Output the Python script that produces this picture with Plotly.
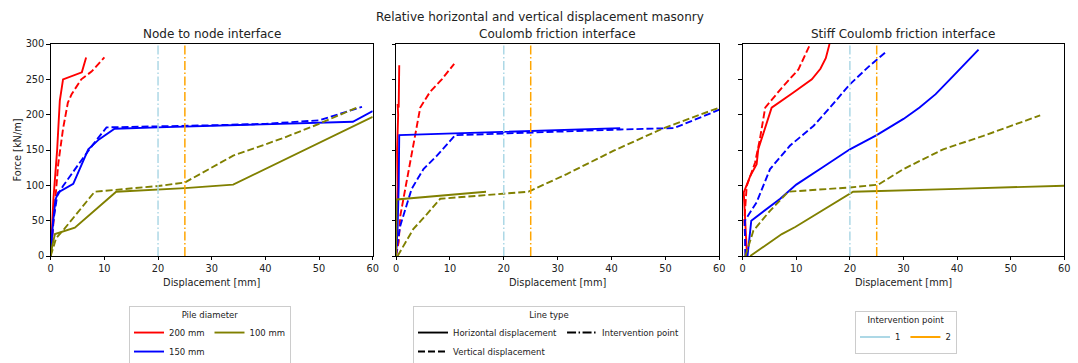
import plotly.graph_objects as go

# ---------------- data ----------------
panel_titles = ["Node to node interface", "Coulomb friction interface", "Stiff Coulomb friction interface"]
suptitle = "Relative horizontal and vertical displacement masonry"
diameters = ["200 mm", "150 mm", "100 mm"]
diam_colors = ["#ff0000", "#0000ff", "#808000"]
x_ticks = [0, 10, 20, 30, 40, 50, 60]
y_ticks = [0, 50, 100, 150, 200, 250, 300]
intervention_x = [20, 25]
intervention_names = ["1", "2"]

# Panel 1: node to node interface
p1_200_h_x = [0, 0.5, 1.0, 1.2, 1.7, 2.3, 5.8, 6.6]
p1_200_h_y = [0, 80, 130, 150, 220, 250, 260, 281]
p1_200_v_x = [0, 0.6, 1.4, 2.3, 3.2, 3.9, 5.7, 7.6, 10.0]
p1_200_v_y = [0, 60, 130, 180, 217, 229, 250, 261, 281]
p1_150_h_x = [0, 0.4, 0.9, 1.4, 4.2, 7.0, 9.0, 11.9, 20, 30, 40, 56.3, 60]
p1_150_h_y = [0, 45, 80, 90, 102, 151, 165, 180, 182, 184, 186, 190, 205]
p1_150_v_x = [0, 0.5, 1.2, 2.3, 5.4, 7.9, 10.4, 20, 30, 40, 50, 58]
p1_150_v_y = [0, 50, 85, 99, 132, 158, 182, 183, 185, 187, 192, 211]
p1_100_h_x = [0, 0.3, 0.8, 4.5, 12.2, 20, 25, 34, 60]
p1_100_h_y = [0, 15, 31, 40, 91, 94, 96, 101, 197]
p1_100_v_x = [0, 1.0, 2.5, 6.0, 8.2, 20, 25, 34, 43, 50, 57]
p1_100_v_y = [0, 25, 38, 71, 91, 99, 104, 142, 166, 187, 210]

# Panel 2: Coulomb friction interface
p2_200_h_x = [0, 0.3, 0.2, 0.4, 0.3, 0.5, 0.6]
p2_200_h_y = [0, 100, 150, 200, 215, 210, 270]
p2_200_v_x = [0, 0.5, 0.8, 2.6, 3.6, 4.5, 6.3, 8.5, 10.8]
p2_200_v_y = [0, 20, 57, 132, 175, 210, 232, 250, 272]
p2_150_h_x = [0, 0.3, 0.5, 0.6, 41.6]
p2_150_h_y = [0, 40, 100, 171, 181]
p2_150_v_x = [0, 0.3, 0.8, 2.9, 5.1, 7.6, 11.0, 20, 30, 41.6, 51.6, 60]
p2_150_v_y = [0, 20, 43, 95, 123, 142, 171, 173, 176, 179, 181, 207]
p2_100_h_x = [0, 0.1, 16.7]
p2_100_h_y = [0, 80, 91]
p2_100_v_x = [0.3, 3.2, 5.7, 8.2, 24.6, 31.7, 40.4, 49.7, 60]
p2_100_v_y = [0, 38, 59, 81, 91, 116, 149, 181, 210]

# Panel 3: stiff Coulomb friction interface
p3_200_h_x = [0.8, 0.6, 0.4, 0.2, 1.4, 2.6, 2.9, 5.4, 9.4, 12.9, 14.5, 15.5, 16.2]
p3_200_h_y = [0, 30, 60, 90, 113, 130, 151, 210, 231, 250, 265, 280, 300]
p3_200_v_x = [0.6, 0.3, 0.75, 2.3, 3.2, 4.2, 7.3, 10.4, 12.6]
p3_200_v_y = [0, 50, 99, 132, 165, 210, 238, 264, 300]
p3_150_h_x = [0.9, 1.4, 1.6, 7.0, 10.0, 15.0, 20.0, 25.0, 30.0, 33.0, 36.0, 39.3, 42.0, 44.0]
p3_150_h_y = [0, 35, 50, 81, 101, 126, 151, 171, 194, 210, 229, 255, 276, 292]
p3_150_v_x = [0.5, 0.4, 2.6, 5.1, 8.8, 13.2, 16.5, 20.0, 23.5, 26.9]
p3_150_v_y = [0, 50, 76, 123, 156, 184, 212, 243, 268, 290]
p3_100_h_x = [1.4, 7.3, 9.8, 20.6, 40, 60]
p3_100_h_y = [0, 31, 41, 91, 95, 99.5]
p3_100_v_x = [0.5, 2.0, 5.1, 8.5, 20, 25.3, 30, 37.4, 44.9, 55.5]
p3_100_v_y = [0, 36, 64, 91, 97, 101, 123, 151, 170, 199]

panels = [
    [(p1_200_h_x, p1_200_h_y, p1_200_v_x, p1_200_v_y),
     (p1_150_h_x, p1_150_h_y, p1_150_v_x, p1_150_v_y),
     (p1_100_h_x, p1_100_h_y, p1_100_v_x, p1_100_v_y)],
    [(p2_200_h_x, p2_200_h_y, p2_200_v_x, p2_200_v_y),
     (p2_150_h_x, p2_150_h_y, p2_150_v_x, p2_150_v_y),
     (p2_100_h_x, p2_100_h_y, p2_100_v_x, p2_100_v_y)],
    [(p3_200_h_x, p3_200_h_y, p3_200_v_x, p3_200_v_y),
     (p3_150_h_x, p3_150_h_y, p3_150_v_x, p3_150_v_y),
     (p3_100_h_x, p3_100_h_y, p3_100_v_x, p3_100_v_y)],
]

# ---------------- style ----------------
W, H = 1078, 363
x_domains = [[50.7 / W, 372.7 / W], [396.0 / W, 719.3 / W], [742.7 / W, 1064.3 / W]]
y_domain = [1 - 256 / H, 1 - 44 / H]
LW = 1.9
DASH = "7px,3px"
DASHDOT = "9px,2.5px,1.5px,2.5px"
interv_colors = ["#add8e6", "#ffa500"]
txt = "#222222"
FONT = "DejaVu Sans"
TICK_FS = 9.8
TITLE_FS = 12
LEG_FS = 8.5

fig = go.Figure()

for pi, series in enumerate(panels):
    xa = "x" if pi == 0 else f"x{pi+1}"
    ya = "y" if pi == 0 else f"y{pi+1}"
    for di, (hx, hy, vx, vy) in enumerate(series):
        fig.add_trace(go.Scatter(x=hx, y=hy, mode="lines", xaxis=xa, yaxis=ya,
                                 line=dict(color=diam_colors[di], width=LW), showlegend=False))
        fig.add_trace(go.Scatter(x=vx, y=vy, mode="lines", xaxis=xa, yaxis=ya,
                                 line=dict(color=diam_colors[di], width=LW, dash=DASH), showlegend=False))
    for ii, xv in enumerate(intervention_x):
        fig.add_trace(go.Scatter(x=[xv, xv], y=[y_ticks[0], y_ticks[-1]], mode="lines", xaxis=xa, yaxis=ya,
                                 line=dict(color=interv_colors[ii], width=1.5, dash=DASHDOT), showlegend=False))

# legend 1: pile diameter (grouped -> columns)
leg1_groups = ["a", "a", "b"]
for di, name in enumerate(diameters):
    fig.add_trace(go.Scatter(x=[None], y=[None], mode="lines", name=name, legend="legend",
                             legendgroup=leg1_groups[di], line=dict(color=diam_colors[di], width=LW)))
# legend 2: line type
line_types = ["Horizontal displacement", "Vertical displacement", "Intervention point"]
line_dashes = ["solid", DASH, DASHDOT]
leg2_groups = ["a", "a", "b"]
for li, name in enumerate(line_types):
    fig.add_trace(go.Scatter(x=[None], y=[None], mode="lines", name=name, legend="legend2",
                             legendgroup="l2" + leg2_groups[li], line=dict(color="black", width=LW, dash=line_dashes[li])))
# legend 3: intervention point
for ii, name in enumerate(intervention_names):
    fig.add_trace(go.Scatter(x=[None], y=[None], mode="lines", name=name, legend="legend3",
                             legendgroup="l3" + name, line=dict(color=interv_colors[ii], width=LW)))

axis_common = dict(showline=True, mirror=True, linecolor="black", linewidth=0.8,
                   ticks="outside", ticklen=3.5, tickwidth=0.8, tickcolor="black", automargin=False,
                   showgrid=False, zeroline=False, tickfont=dict(size=TICK_FS, color=txt, family=FONT))

layout = dict(width=W, height=H, margin=dict(l=0, r=0, t=0, b=0, autoexpand=False),
              paper_bgcolor="white", plot_bgcolor="white",
              font=dict(family=FONT, color=txt))
for pi in range(3):
    xk = "xaxis" if pi == 0 else f"xaxis{pi+1}"
    yk = "yaxis" if pi == 0 else f"yaxis{pi+1}"
    layout[xk] = dict(axis_common, domain=x_domains[pi], range=[0, 60], tickvals=x_ticks,
                      anchor="y" if pi == 0 else f"y{pi+1}",
                      title=dict(text="Displacement [mm]", font=dict(size=TICK_FS, color=txt), standoff=5))
    layout[yk] = dict(axis_common, domain=y_domain, range=[0, 300], tickvals=y_ticks,
                      anchor="x" if pi == 0 else f"x{pi+1}",
                      showticklabels=(pi == 0))
layout["yaxis"]["title"] = dict(text="Force [kN/m]", font=dict(size=TICK_FS, color=txt), standoff=2)

leg_common = dict(orientation="h", traceorder="grouped", yanchor="middle", xanchor="left",
                  bordercolor="#cccccc", borderwidth=1, bgcolor="white",
                  font=dict(size=LEG_FS, color=txt, family=FONT), itemwidth=30,
                  tracegroupgap=0)
layout["legend"] = dict(leg_common, x=129 / W, y=1 - 337 / H,
                        title=dict(text="Pile diameter", side="top center", font=dict(size=LEG_FS, color=txt)))
layout["legend2"] = dict(leg_common, x=413 / W, y=1 - 337 / H,
                         title=dict(text="Line type", side="top center", font=dict(size=LEG_FS, color=txt)))
layout["legend3"] = dict(leg_common, x=855 / W, y=1 - 332 / H,
                         title=dict(text="Intervention point", side="top center", font=dict(size=LEG_FS, color=txt)))

annotations = [dict(text=suptitle, x=540 / W, y=1 - 17 / H, xref="paper", yref="paper",
                    showarrow=False, xanchor="center", yanchor="middle", font=dict(size=TITLE_FS, color=txt))]
for pi, t in enumerate(panel_titles):
    annotations.append(dict(text=t, x=(x_domains[pi][0] + x_domains[pi][1]) / 2, y=1 - 34 / H,
                            xref="paper", yref="paper", showarrow=False, xanchor="center",
                            yanchor="middle", font=dict(size=TITLE_FS, color=txt)))
layout["annotations"] = annotations

fig.update_layout(**layout)
fig.write_html("out.html")
